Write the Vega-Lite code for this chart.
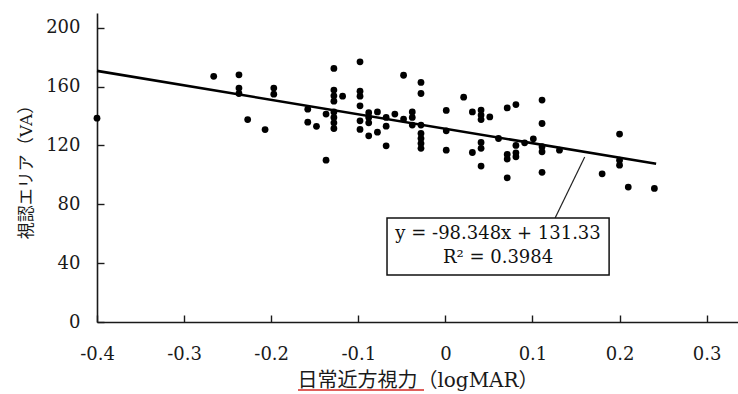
{
  "$schema": "https://vega.github.io/schema/vega-lite/v6.json",
  "width": 641,
  "height": 309,
  "autosize": "none",
  "padding": {"left": 97, "top": 13, "right": 0, "bottom": 72},
  "background": "white",
  "config": {
    "view": {"stroke": null},
    "axis": {
      "grid": false,
      "domainColor": "#1a1a1a",
      "domainWidth": 1.6,
      "tickColor": "#1a1a1a",
      "tickWidth": 1.4,
      "tickSize": -7,
      "labelFont": "DejaVu Serif",
      "labelFontSize": 18,
      "labelColor": "#1a1a1a",
      "titleFont": "DejaVu Serif, Noto Sans CJK JP",
      "titleFontWeight": "normal",
      "titleColor": "#1a1a1a",
      "labelOverlap": false,
      "labelFlush": false
    }
  },
  "datasets": {
    "points": [
      {"x": -0.4, "y": 138.5}, {"x": -0.266, "y": 167}, {"x": -0.237, "y": 168}, {"x": -0.237, "y": 159},
      {"x": -0.237, "y": 155.3}, {"x": -0.227, "y": 137.6}, {"x": -0.207, "y": 130.8}, {"x": -0.197, "y": 159},
      {"x": -0.197, "y": 154.8}, {"x": -0.158, "y": 144.6}, {"x": -0.158, "y": 135.8}, {"x": -0.148, "y": 133},
      {"x": -0.137, "y": 141.3}, {"x": -0.137, "y": 110}, {"x": -0.128, "y": 172.3}, {"x": -0.128, "y": 157.6},
      {"x": -0.128, "y": 153.7}, {"x": -0.128, "y": 150.1}, {"x": -0.128, "y": 142.8}, {"x": -0.128, "y": 139},
      {"x": -0.128, "y": 135.4}, {"x": -0.128, "y": 131.5}, {"x": -0.118, "y": 153.5}, {"x": -0.098, "y": 176.8},
      {"x": -0.098, "y": 156.9}, {"x": -0.098, "y": 153.5}, {"x": -0.098, "y": 146.9}, {"x": -0.098, "y": 136.7},
      {"x": -0.098, "y": 130.9}, {"x": -0.088, "y": 142.2}, {"x": -0.088, "y": 139}, {"x": -0.088, "y": 135.4},
      {"x": -0.088, "y": 126.5}, {"x": -0.078, "y": 142.8}, {"x": -0.078, "y": 129}, {"x": -0.068, "y": 139},
      {"x": -0.068, "y": 133.1}, {"x": -0.068, "y": 119.7}, {"x": -0.058, "y": 141.3}, {"x": -0.048, "y": 167.7},
      {"x": -0.048, "y": 137.9}, {"x": -0.038, "y": 142.8}, {"x": -0.038, "y": 139}, {"x": -0.038, "y": 133.8},
      {"x": -0.028, "y": 162.8}, {"x": -0.028, "y": 155.3}, {"x": -0.028, "y": 133.8}, {"x": -0.028, "y": 128.1},
      {"x": -0.028, "y": 124.7}, {"x": -0.028, "y": 121.3}, {"x": -0.028, "y": 118}, {"x": 0.001, "y": 143.8},
      {"x": 0.001, "y": 129.9}, {"x": 0.001, "y": 116.8}, {"x": 0.021, "y": 152.8}, {"x": 0.031, "y": 142.8},
      {"x": 0.031, "y": 115.2}, {"x": 0.041, "y": 144}, {"x": 0.041, "y": 140.6}, {"x": 0.041, "y": 137.6},
      {"x": 0.041, "y": 122}, {"x": 0.041, "y": 118}, {"x": 0.041, "y": 106}, {"x": 0.051, "y": 139.4},
      {"x": 0.061, "y": 124.7}, {"x": 0.071, "y": 145.5}, {"x": 0.071, "y": 113.9}, {"x": 0.071, "y": 110.7},
      {"x": 0.071, "y": 98}, {"x": 0.081, "y": 147.8}, {"x": 0.081, "y": 120}, {"x": 0.081, "y": 115},
      {"x": 0.081, "y": 112.3}, {"x": 0.091, "y": 121.8}, {"x": 0.101, "y": 124.5}, {"x": 0.111, "y": 150.8},
      {"x": 0.111, "y": 134.9}, {"x": 0.111, "y": 119.1}, {"x": 0.111, "y": 115.7}, {"x": 0.111, "y": 101.7},
      {"x": 0.131, "y": 116.8}, {"x": 0.18, "y": 100.7}, {"x": 0.2, "y": 127.7}, {"x": 0.2, "y": 110},
      {"x": 0.2, "y": 106.6}, {"x": 0.21, "y": 91.7}, {"x": 0.24, "y": 90.8}
    ],
    "trend": [
      {"x": -0.4, "y": 170.67},
      {"x": 0.242, "y": 107.53}
    ],
    "leader": [
      {"x": 0.16, "y": 112.1, "x2": 0.126, "y2": 70.7}
    ],
    "box": [
      {"x": -0.067, "x2": 0.188, "y": 70.7, "y2": 31.9}
    ],
    "labels": [
      {"x": 0.0605, "y": 59.8, "text": "y = -98.348x + 131.33"},
      {"x": 0.0605, "y": 43.5, "text": "R² = 0.3984"}
    ],
    "underline": [
      {"x": -0.1692, "x2": -0.0245, "y": -46.2}
    ]
  },
  "layer": [
    {
      "data": {"name": "points"},
      "mark": {"type": "point", "filled": true, "shape": "circle", "size": 46, "color": "#000", "opacity": 1},
      "encoding": {
        "x": {
          "field": "x", "type": "quantitative",
          "scale": {"domain": [-0.4, 0.336], "nice": false, "zero": false},
          "axis": {
            "values": [-0.4, -0.3, -0.2, -0.1, 0, 0.1, 0.2, 0.3],
            "labelExpr": "replace(format(datum.value, '.1~f'), '−', '-')",
            "labelPadding": 30,
            "title": "日常近方視力（logMAR）",
            "titleFontSize": 20,
            "titlePadding": 7
          }
        },
        "y": {
          "field": "y", "type": "quantitative",
          "scale": {"domain": [0, 210], "nice": false},
          "axis": {
            "values": [0, 40, 80, 120, 160, 200],
            "labelExpr": "format(datum.value, 'd')",
            "labelPadding": 24,
            "title": "視認エリア（VA）",
            "titleFontSize": 17,
            "titlePadding": 10
          }
        }
      }
    },
    {
      "data": {"name": "trend"},
      "mark": {"type": "line", "color": "#000", "strokeWidth": 2.6},
      "encoding": {
        "x": {"field": "x", "type": "quantitative"},
        "y": {"field": "y", "type": "quantitative"}
      }
    },
    {
      "data": {"name": "leader"},
      "mark": {"type": "rule", "color": "#222", "strokeWidth": 1.2},
      "encoding": {
        "x": {"field": "x", "type": "quantitative"},
        "y": {"field": "y", "type": "quantitative"},
        "x2": {"field": "x2"},
        "y2": {"field": "y2"}
      }
    },
    {
      "data": {"name": "box"},
      "mark": {"type": "rect", "fill": "white", "stroke": "#111", "strokeWidth": 1.5},
      "encoding": {
        "x": {"field": "x", "type": "quantitative"},
        "x2": {"field": "x2"},
        "y": {"field": "y", "type": "quantitative"},
        "y2": {"field": "y2"}
      }
    },
    {
      "data": {"name": "labels"},
      "mark": {"type": "text", "font": "DejaVu Serif", "fontSize": 18, "color": "#111", "align": "center", "baseline": "middle"},
      "encoding": {
        "x": {"field": "x", "type": "quantitative"},
        "y": {"field": "y", "type": "quantitative"},
        "text": {"field": "text"}
      }
    },
    {
      "data": {"name": "underline"},
      "mark": {"type": "rule", "color": "#d42a24", "strokeWidth": 1.6},
      "encoding": {
        "x": {"field": "x", "type": "quantitative"},
        "x2": {"field": "x2"},
        "y": {"field": "y", "type": "quantitative"}
      }
    }
  ]
}
